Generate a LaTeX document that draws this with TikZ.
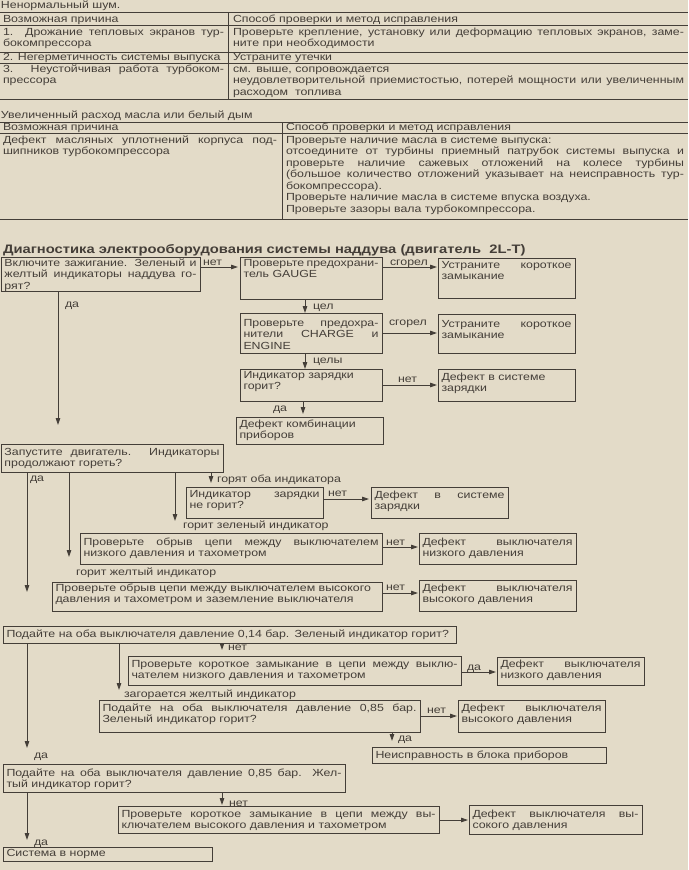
\documentclass[tikz,border=0pt]{standalone}
\usepackage{fontspec}
\setmainfont{Liberation Sans}[FakeStretch=1.2]
\usetikzlibrary{arrows.meta}
\definecolor{bg}{RGB}{227,219,200}
\definecolor{ink}{RGB}{68,62,56}
\newcommand\jl[1]{\makebox[\hsize][s]{\spaceskip=0pt\xspaceskip=0pt #1}}
\tikzset{
  every node/.style={inner sep=0pt, outer sep=0pt, text=ink},
  boxs/.style={draw=ink, line width=0.9pt, rectangle, anchor=north west},
  txt/.style={anchor=base west, align=left},
  lbl/.style={anchor=base west},
  arr/.style={draw=ink, line width=0.8pt, -{Triangle[length=7pt,width=4.5pt]}},
  rulel/.style={draw=ink, line width=0.9pt},
}
\newcommand\fbx[7]{%
  \pgfmathsetmacro\bw{#4-#2}\pgfmathsetmacro\bh{#5-#3}\pgfmathsetmacro\tw{#4-#2-7}%
  \node[boxs, minimum width=\bw pt, minimum height=\bh pt] (#1) at (#2,#3) {};
  \node[txt, text width=\tw pt] (#1t) at (#2+3.5,#6) {#7};
}
\begin{document}
\begin{tikzpicture}[x=1pt,y=-1pt,font=\fontsize{10.3}{11.5}\selectfont]
\fill[bg] (0,0) rectangle (688,870);
\useasboundingbox (0,0) rectangle (688,870);
% ---------- table 1
\node[lbl] (t1t) at (1,9) {Ненормальный шум.};
\foreach \yy in {12.5,25.5,52.5,63.5,99.5} \draw[rulel] (0,\yy) -- (688,\yy);
\draw[rulel] (228,12.5) -- (228,99.5);
\node[lbl] (t1h1) at (3,22) {Возможная причина};
\node[lbl] (t1h2) at (233,22) {Способ проверки и метод исправления};
\node[txt, text width=221pt] (t1r1a) at (3,35) {\jl{1. Дрожание тепловых экранов тур-}\\бокомпрессора};
\node[txt, text width=451pt] (t1r1b) at (233,35) {\jl{Проверьте крепление, установку или деформацию тепловых экранов, заме-}\\ните при необходимости};
\node[lbl] (t1r2a) at (3,60) {2. Негерметичность системы выпуска};
\node[lbl] (t1r2b) at (233,60) {Устраните утечки};
\node[txt, text width=221pt] (t1r3a) at (3,72) {\jl{3. Неустойчивая работа турбоком-}\\прессора};
\node[txt, text width=451pt] (t1r3b) at (233,72) {см. выше, сопровождается\\\jl{неудовлетворительной приемистостью, потерей мощности или увеличенным}\\расходом\ \ топлива};
% ---------- table 2
\node[lbl] (t2t) at (1,118) {Увеличенный расход масла или белый дым};
\foreach \yy in {122.5,133,219} \draw[rulel] (0,\yy) -- (688,\yy);
\draw[rulel] (282,122.5) -- (282,219);
\node[lbl] (t2h1) at (3,130) {Возможная причина};
\node[lbl] (t2h2) at (286,130) {Способ проверки и метод исправления};
\node[txt, text width=274pt] (t2a) at (3,143) {\jl{Дефект масляных уплотнений корпуса под-}\\шипников турбокомпрессора};
\node[txt, text width=398pt] (t2b) at (286,143) {Проверьте наличие масла в системе выпуска:\\\jl{отсоедините от турбины приемный патрубок системы выпуска и}\\\jl{проверьте наличие сажевых отложений на колесе турбины}\\\jl{(большое количество отложений указывает на неисправность тур-}\\бокомпрессора).\\Проверьте наличие масла в системе впуска воздуха.\\Проверьте зазоры вала турбокомпрессора.};
% ---------- title
\node[lbl, font=\fontsize{12.3}{14}\selectfont\bfseries] (ttl) at (3,253) {Диагностика электрооборудования системы наддува (двигатель\ \ 2L-T)};
% ---------- flowchart boxes
\fbx{n1}{1}{257}{200}{291}{266}{\jl{Включите зажигание. Зеленый и}\\\jl{желтый индикаторы наддува го-}\\рят?}
\fbx{n2}{240}{257}{382}{299}{266}{\jl{Проверьте предохрани-}\\тель GAUGE}
\fbx{n3}{438}{258}{575}{298}{268}{\jl{Устраните короткое}\\замыкание}
\fbx{n4}{240}{313}{382}{353}{326}{\jl{Проверьте предохра-}\\\jl{нители CHARGE и}\\ENGINE}
\fbx{n5}{438}{314}{575}{353}{327}{\jl{Устраните короткое}\\замыкание}
\fbx{n6}{240}{369}{382}{401}{378}{Индикатор зарядки\\горит?}
\fbx{n7}{438}{369}{575}{401}{380}{Дефект в системе\\зарядки}
\fbx{n8}{236}{417}{383}{444}{427}{Дефект комбинации\\приборов}
\fbx{n9}{1}{444}{223}{472}{455}{\jl{Запустите двигатель. Индикаторы}\\продолжают гореть?}
\fbx{n10}{186}{487}{323}{518}{497}{\jl{Индикатор зарядки}\\не горит?}
\fbx{n11}{371}{487}{508}{518}{498}{\jl{Дефект в системе}\\зарядки}
\fbx{n12}{80}{533}{382}{564}{545}{\jl{Проверьте обрыв цепи между выключателем}\\низкого давления и тахометром}
\fbx{n13}{419}{533}{576}{564}{545}{\jl{Дефект выключателя}\\низкого давления}
\fbx{n14}{52}{582}{382}{611}{591}{Проверьте обрыв цепи между выключателем высокого\\давления и тахометром и заземление выключателя}
\fbx{n15}{419}{580}{576}{611}{591}{\jl{Дефект выключателя}\\высокого давления}
\fbx{n16}{3}{626}{456}{643}{637}{\mbox{Подайте на оба выключателя давление 0,14 бар. Зеленый индикатор горит?}}
\fbx{n17}{128}{656}{461}{685}{667}{\jl{Проверьте короткое замыкание в цепи между выклю-}\\чателем низкого давления и тахометром}
\fbx{n18}{497}{657}{644}{685}{667}{\jl{Дефект выключателя}\\низкого давления}
\fbx{n19}{99}{700}{420}{732}{711}{\jl{Подайте на оба выключателя давление 0,85 бар.}\\Зеленый индикатор горит?}
\fbx{n20}{458}{700}{605}{732}{711}{\jl{Дефект выключателя}\\высокого давления}
\fbx{n21}{372}{747}{606}{763}{758}{Неисправность в блока приборов}
\fbx{n22}{3}{764}{345}{792}{776}{\jl{Подайте на оба выключателя давление 0,85 бар. Жел-}\\тый индикатор горит?}
\fbx{n23}{118}{806}{439}{833}{817}{\jl{Проверьте короткое замыкание в цепи между вы-}\\ключателем высокого давления и тахометром}
\fbx{n24}{469}{805}{642}{834}{817}{\jl{Дефект выключателя вы-}\\сокого давления}
\fbx{n25}{3}{847}{212}{861}{856}{Система в норме}
% ---------- connectors
\draw[arr, shorten >=2pt] (n1.east |- 0,267) -- (n2.west |- 0,267);
\node[lbl] (l1) at (203,265) {нет};
\draw[arr, shorten >=1pt] (n2.east |- 0,267) -- (n3.west |- 0,267);
\node[lbl] (l2) at (390,265) {сгорел};
\draw[arr] (n2.south -| 305,0) -- (n4.north -| 305,0);
\node[lbl] (l3) at (313,309) {цел};
\draw[arr, shorten >=1pt] (n4.east |- 0,333) -- (n5.west |- 0,333);
\node[lbl] (l4) at (389,325) {сгорел};
\draw[arr] (n4.south -| 305,0) -- (n6.north -| 305,0);
\node[lbl] (l5) at (313,363) {целы};
\draw[arr, shorten >=1pt] (n6.east |- 0,385) -- (n7.west |- 0,385);
\node[lbl] (l6) at (398,382) {нет};
\draw[arr, shorten >=3pt] (n6.south -| 303,0) -- (n8.north -| 303,0);
\node[lbl] (l7) at (273,411) {да};
\draw[arr, shorten >=19pt] (n1.south -| 58,0) -- (n9.north -| 58,0);
\node[lbl] (l8) at (65,307) {да};
\draw[arr, shorten >=34pt] (n9.south -| 27,0) -- (n16.north -| 27,0);
\node[lbl] (l9) at (30,481) {да};
\draw[arr, shorten >=25pt] (n9.south -| 69,0) -- (n14.north -| 69,0);
\node[lbl] (l10) at (76,575) {горит желтый индикатор};
\draw[arr, shorten >=12pt] (n9.south -| 175,0) -- (n12.north -| 175,0);
\node[lbl] (l11) at (183,528) {горит зеленый индикатор};
\draw[arr, shorten >=4pt] (n9.south -| 211,0) -- (n10.north -| 211,0);
\node[lbl] (l12) at (217,482) {горят оба индикатора};
\draw[arr, shorten >=2pt] (n10.east |- 0,499) -- (n11.west |- 0,499);
\node[lbl] (l13) at (328,496) {нет};
\draw[arr, shorten >=1pt] (n12.east |- 0,547) -- (n13.west |- 0,547);
\node[lbl] (l14) at (386,545) {нет};
\draw[arr, shorten >=1pt] (n14.east |- 0,593) -- (n15.west |- 0,593);
\node[lbl] (l15) at (386,590) {нет};
\draw[arr, shorten >=16pt] (n16.south -| 27,0) -- (n22.north -| 27,0);
\node[lbl] (l16) at (34,758) {да};
\draw[arr, shorten >=10pt] (n16.south -| 119,0) -- (n19.north -| 119,0);
\node[lbl] (l17) at (124,697) {загорается желтый индикатор};
\draw[arr, shorten >=6pt] (n16.south -| 222,0) -- (n17.north -| 222,0);
\node[lbl] (l18) at (228,650) {нет};
\draw[arr, shorten >=1pt] (n17.east |- 0,672) -- (n18.west |- 0,672);
\node[lbl] (l19) at (467,670) {да};
\draw[arr, shorten >=1pt] (n19.east |- 0,716) -- (n20.west |- 0,716);
\node[lbl] (l20) at (427,713) {нет};
\draw[arr, shorten >=6pt] (n19.south -| 392,0) -- (n21.north -| 392,0);
\node[lbl] (l21) at (398,741) {да};
\draw[arr, shorten >=7pt] (n22.south -| 27,0) -- (n25.north -| 27,0);
\node[lbl] (l22) at (34,845) {да};
\draw[arr, shorten >=1pt] (n22.south -| 222,0) -- (n23.north -| 222,0);
\node[lbl] (l23) at (229,806) {нет};
\draw[arr, shorten >=1pt] (n23.east |- 0,820) -- (n24.west |- 0,820);
\end{tikzpicture}
\end{document}
